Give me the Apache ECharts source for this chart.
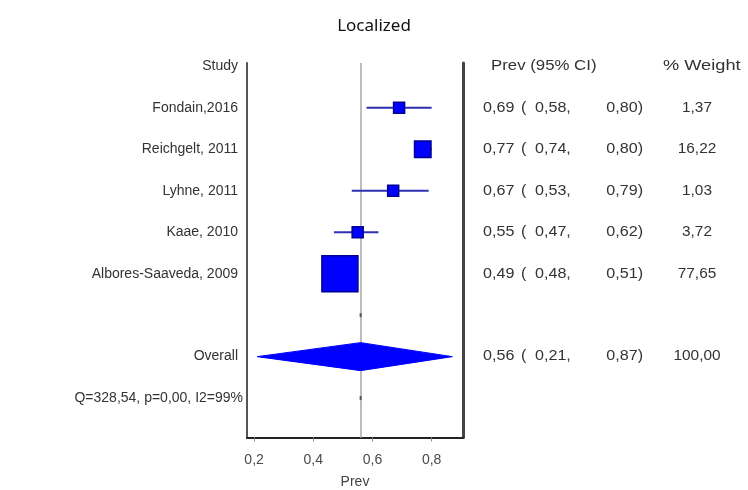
<!DOCTYPE html>
<html>
<head>
<meta charset="utf-8">
<title>Localized</title>
<script src="https://cdn.jsdelivr.net/npm/echarts@6/dist/echarts.min.js"></script>
<style>
  html, body { margin: 0; padding: 0; background: #ffffff; }
  #chart { width: 748px; height: 490px; }
</style>
</head>
<body>
<div id="chart"></div>
<script>
// Forest plot: prevalence by study with 95% CI and random-effects pooled estimate
const studies   = ['Fondain,2016', 'Reichgelt, 2011', 'Lyhne, 2011', 'Kaae, 2010', 'Albores-Saaveda, 2009'];
const prevEst   = [0.69, 0.77, 0.67, 0.55, 0.49];
const ciLow     = [0.58, 0.74, 0.53, 0.47, 0.48];
const ciHigh    = [0.80, 0.80, 0.79, 0.62, 0.51];
const weightPct = [1.37, 16.22, 1.03, 3.72, 77.65];

const overallEst    = 0.56;
const overallLow    = 0.21;
const overallHigh   = 0.87;
const overallWeight = 100.00;
const heterogeneity = 'Q=328,54, p=0,00, I2=99%';

const xTicks = [0.2, 0.4, 0.6, 0.8];

// row layout: 0 header, 1..5 studies, 6 spacer, 7 overall, 8 heterogeneity
const ROW_HEADER = 0, ROW_OVERALL = 7, ROW_HET = 8;
const X_MIN = 0.176, X_MAX = 0.906;

const comma = v => v.toFixed(2).replace('.', ',');

// text table rows built from the arrays above
const leftText = ['Study'].concat(studies, ['', 'Overall', heterogeneity]);
const estCol  = studies.map((s, i) => [prevEst[i], ciLow[i], ciHigh[i]]);
estCol.splice(0, 0, null);
estCol.push(null, [overallEst, overallLow, overallHigh], null);
const rightText = ['% Weight']
  .concat(weightPct.map(comma))
  .concat(['', comma(overallWeight), '']);

const FONT = '14px "Liberation Sans", Arial, sans-serif';
const TEXT_COLOR = '#333333';

const textRows = leftText.map((t, i) => [X_MAX, i, i]);
const studyRows = studies.map((s, i) => [prevEst[i], i + 1, ciLow[i], ciHigh[i], weightPct[i]]);
const maxWeight = Math.max.apply(null, weightPct);

// text element; the right-hand table columns are set slightly wider
function txt(x, y, s, align, stretch) {
  return { type: 'text', x: x, y: y, scaleX: stretch || 1,
    style: { text: s, font: FONT, fill: TEXT_COLOR, align: align, verticalAlign: 'middle' } };
}

const chart = echarts.init(document.getElementById('chart'), null, { renderer: 'canvas' });

chart.setOption({
  backgroundColor: '#ffffff',
  animation: false,
  title: {
    text: 'Localized',
    left: 'center',
    top: 13,
    textStyle: { fontFamily: '"Noto Sans", sans-serif', fontSize: 17, fontWeight: 'normal', color: '#111111' }
  },
  grid: { left: 247, right: 285, top: 63, bottom: 52.5, outerBoundsMode: 'none', containLabel: false },
  xAxis: {
    type: 'value',
    min: X_MIN,
    max: X_MAX,
    name: 'Prev',
    nameLocation: 'middle',
    nameGap: 38,
    nameTextStyle: { fontFamily: '"Liberation Sans", Arial, sans-serif', fontSize: 14, color: '#444444' },
    axisLine: { show: true, onZero: false, lineStyle: { color: '#222222', width: 2 } },
    axisTick: { show: true, customValues: xTicks, length: 4, lineStyle: { color: '#8a8a8a', width: 1 } },
    axisLabel: {
      customValues: xTicks,
      formatter: v => String(v).replace('.', ','),
      fontFamily: '"Liberation Sans", Arial, sans-serif',
      fontSize: 14,
      color: '#4a4a4a',
      margin: 16
    },
    splitLine: { show: false }
  },
  yAxis: [
    {
      type: 'value', min: -0.08, max: 8.95, inverse: true, position: 'left',
      axisLine: { show: true, onZero: false, lineStyle: { color: '#555555', width: 2 } },
      axisTick: { show: false }, axisLabel: { show: false }, splitLine: { show: false }
    },
    {
      type: 'value', min: -0.08, max: 8.95, inverse: true, position: 'right',
      axisLine: { show: true, onZero: false, lineStyle: { color: '#444444', width: 3 } },
      axisTick: { show: false }, axisLabel: { show: false }, splitLine: { show: false }
    }
  ],
  series: [
    // vertical reference line at the pooled estimate, with small row markers
    {
      type: 'custom',
      z: 2,
      clip: false,
      data: [[overallEst, 6], [overallEst, ROW_HET]],
      renderItem: (params, api) => {
        const c = api.coord([api.value(0), api.value(1)]);
        return { type: 'line', shape: { x1: c[0], y1: c[1] - 2, x2: c[0], y2: c[1] + 2 },
                 style: { stroke: '#555555', lineWidth: 2 } };
      },
      markLine: {
        z: 1,
        silent: true,
        symbol: 'none',
        label: { show: false },
        lineStyle: { color: '#bdbdbd', width: 2, type: 'solid' },
        data: [{ xAxis: overallEst }]
      }
    },
    // study estimates: CI whiskers and weight-scaled squares
    {
      type: 'custom',
      z: 3,
      clip: false,
      data: studyRows,
      renderItem: (params, api) => {
        const row = api.value(1);
        const c = api.coord([api.value(0), row]);
        const lo = api.coord([api.value(2), row]);
        const hi = api.coord([api.value(3), row]);
        const side = Math.max(11, 36 * Math.sqrt(api.value(4) / maxWeight));
        return {
          type: 'group',
          children: [
            { type: 'line', shape: { x1: lo[0], y1: c[1], x2: hi[0], y2: c[1] },
              style: { stroke: '#2f2fb4', lineWidth: 2 } },
            { type: 'rect', shape: { x: c[0] - side / 2, y: c[1] - side / 2, width: side, height: side },
              style: { fill: '#0000ff', stroke: '#000090', lineWidth: 1.5 } }
          ]
        };
      }
    },
    // pooled estimate diamond
    {
      type: 'custom',
      z: 3,
      clip: false,
      data: [[overallEst, ROW_OVERALL, overallLow, overallHigh]],
      renderItem: (params, api) => {
        const row = api.value(1);
        const c = api.coord([api.value(0), row]);
        const lo = api.coord([api.value(2), row]);
        const hi = api.coord([api.value(3), row]);
        const h = 14;
        return {
          type: 'polygon',
          shape: { points: [[lo[0], c[1]], [c[0], c[1] - h], [hi[0], c[1]], [c[0], c[1] + h]] },
          style: { fill: '#0000ff', stroke: '#0000ff', lineWidth: 1 }
        };
      }
    },
    // study names, CI column and weight column
    {
      type: 'custom',
      z: 4,
      clip: false,
      data: textRows,
      renderItem: (params, api) => {
        const row = api.value(1);
        const idx = api.value(2);
        const right = api.coord([X_MAX, row]);
        const left = api.coord([X_MIN, row]);
        const y = right[1];
        const x0 = right[0];
        const children = [];
        if (leftText[idx]) {
          children.push(txt(left[0] - (row === ROW_HET ? 4 : 9), y, leftText[idx], 'right'));
        }
        if (row === ROW_HEADER) {
          children.push(txt(x0 + 28, y, 'Prev (95% CI)', 'left', 1.2));
        } else if (estCol[idx]) {
          const v = estCol[idx];
          children.push(txt(x0 + 20, y, comma(v[0]), 'left', 1.15));
          children.push(txt(x0 + 58, y, '(', 'left', 1.15));
          children.push(txt(x0 + 72, y, comma(v[1]) + ',', 'left', 1.15));
          children.push(txt(x0 + 180, y, comma(v[2]) + ')', 'right', 1.15));
        }
        if (rightText[idx]) {
          const header = row === ROW_HEADER;
          children.push(txt(x0 + (header ? 200 : 234), y, rightText[idx],
            header ? 'left' : 'center', header ? 1.3 : 1.1));
        }
        return { type: 'group', children: children };
      }
    }
  ]
});
</script>
</body>
</html>
